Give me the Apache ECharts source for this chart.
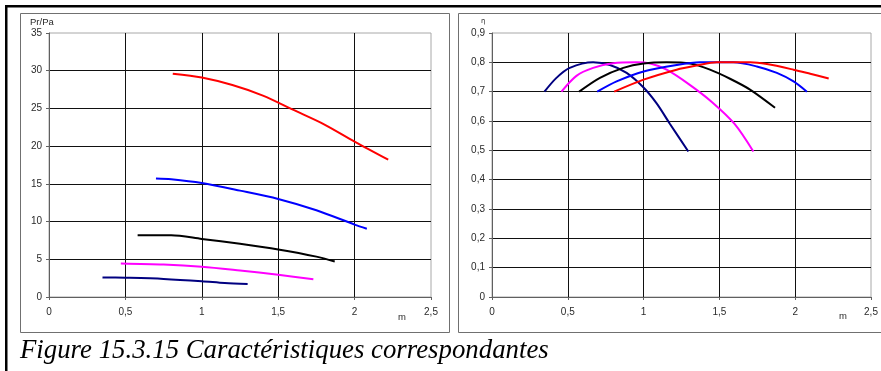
<!DOCTYPE html>
<html>
<head>
<meta charset="utf-8">
<script src="https://cdn.jsdelivr.net/npm/echarts@6/dist/echarts.min.js"></script>
<style>
html,body{margin:0;padding:0;background:#fff;}
#chart{width:881px;height:371px;}
</style>
</head>
<body>
<div id="chart"></div>
<script>
// ---- Data ----
const caption = 'Figure 15.3.15 Caractéristiques correspondantes';
const xTicks = [0, 0.5, 1, 1.5, 2, 2.5];
const yTicksP = [0, 5, 10, 15, 20, 25, 30, 35];
const yTicksE = [0, 0.1, 0.2, 0.3, 0.4, 0.5, 0.6, 0.7, 0.8, 0.9];
const seriesColors = ['#000080', '#ff00ff', '#000000', '#0000ff', '#ff0000'];

// Left chart: Pr/Pa vs m
const navyPx = [0.35, 0.5, 0.75, 1.0, 1.15, 1.30];
const navyPy = [2.6, 2.55, 2.4, 2.1, 1.85, 1.72];
const magentaPx = [0.47, 0.75, 1.0, 1.25, 1.5, 1.73];
const magentaPy = [4.45, 4.3, 4.0, 3.5, 2.95, 2.35];
const blackPx = [0.58, 0.8, 1.0, 1.25, 1.5, 1.75, 1.87];
const blackPy = [8.2, 8.2, 7.7, 7.05, 6.3, 5.35, 4.7];
const bluePx = [0.70, 0.8, 1.0, 1.25, 1.5, 1.75, 2.0, 2.08];
const bluePy = [15.7, 15.6, 15.1, 14.1, 13.0, 11.5, 9.6, 9.05];
const redPx = [0.81, 1.0, 1.2, 1.4, 1.6, 1.8, 2.0, 2.22];
const redPy = [29.6, 29.1, 28.1, 26.7, 24.8, 22.9, 20.6, 18.2];

// Right chart: eta vs m
const navyEx = [0.346, 0.425, 0.513, 0.667, 0.778, 0.888, 0.998, 1.086, 1.174, 1.295];
const navyEy = [0.70, 0.747, 0.781, 0.80, 0.791, 0.764, 0.715, 0.660, 0.590, 0.496];
const magentaEx = [0.458, 0.557, 0.667, 0.80, 0.95, 1.05, 1.152, 1.30, 1.45, 1.60, 1.724];
const magentaEy = [0.70, 0.754, 0.781, 0.797, 0.80, 0.795, 0.775, 0.725, 0.665, 0.590, 0.496];
const blackEx = [0.575, 0.712, 0.866, 1.0, 1.152, 1.306, 1.438, 1.570, 1.702, 1.867];
const blackEy = [0.70, 0.747, 0.781, 0.796, 0.80, 0.796, 0.775, 0.744, 0.707, 0.645];
const blueEx = [0.694, 0.822, 1.0, 1.218, 1.372, 1.592, 1.747, 1.879, 1.989, 2.077];
const blueEy = [0.70, 0.735, 0.769, 0.791, 0.80, 0.80, 0.786, 0.764, 0.735, 0.70];
const redEx = [0.806, 1.0, 1.218, 1.350, 1.482, 1.702, 1.813, 1.989, 2.099, 2.221];
const redEy = [0.70, 0.741, 0.775, 0.789, 0.80, 0.80, 0.794, 0.775, 0.761, 0.745];

// ---- Build ----
const zip = (xs, ys) => xs.map((x, i) => [x, ys[i]]);
const leftSets = [[navyPx, navyPy], [magentaPx, magentaPy], [blackPx, blackPy], [bluePx, bluePy], [redPx, redPy]];
const rightSets = [[navyEx, navyEy], [magentaEx, magentaEy], [blackEx, blackEy], [blueEx, blueEy], [redEx, redEy]];
const fmt = v => String(+(+v).toFixed(1)).replace('.', ',');

// fit caption width to the reference (~529 px)
const capFamily = '"Liberation Serif", "DejaVu Serif", serif';
let capSize = 24;
try {
  const ctx = document.createElement('canvas').getContext('2d');
  ctx.font = 'italic 100px ' + capFamily;
  const w = ctx.measureText(caption).width;
  if (w > 0) capSize = Math.round(100 * 529 / w * 10) / 10;
} catch (e) {}

const labelStyle = { color: '#2a2a2a', fontSize: 10, fontFamily: 'Liberation Sans', formatter: fmt };
function xAxis(gi) {
  return {
    type: 'value', gridIndex: gi, min: xTicks[0], max: xTicks[xTicks.length - 1], interval: 0.5,
    axisLine: { show: true, lineStyle: { color: '#606060', width: 1 } },
    axisTick: { show: true, length: 3, lineStyle: { color: '#606060' } },
    axisLabel: Object.assign({ margin: 10 }, labelStyle),
    splitLine: { show: true, showMinLine: false, showMaxLine: false, lineStyle: { color: '#111', width: 1 } }
  };
}
function yAxis(gi, ticks, interval) {
  return {
    type: 'value', gridIndex: gi, min: ticks[0], max: ticks[ticks.length - 1], interval: interval,
    axisLine: { show: true, lineStyle: { color: '#606060', width: 1 } },
    axisTick: { show: true, length: 3, lineStyle: { color: '#606060' } },
    axisLabel: Object.assign({ margin: 7 }, labelStyle),
    splitLine: { show: true, showMinLine: false, showMaxLine: false, lineStyle: { color: '#111', width: 1 } }
  };
}

const series = [];
leftSets.forEach((s, i) => series.push({
  type: 'line', xAxisIndex: 0, yAxisIndex: 0, data: zip(s[0], s[1]), smooth: 0.3,
  showSymbol: false, lineStyle: { color: seriesColors[i], width: 2 }, itemStyle: { color: seriesColors[i] }, z: 5
}));
rightSets.forEach((s, i) => series.push({
  type: 'line', xAxisIndex: 1, yAxisIndex: 1, data: zip(s[0], s[1]), smooth: 0.3,
  showSymbol: false, lineStyle: { color: seriesColors[i], width: 2 }, itemStyle: { color: seriesColors[i] }, z: 5
}));

const chart = echarts.init(document.getElementById('chart'), null, { renderer: 'canvas' });
chart.setOption({
  animation: false,
  backgroundColor: '#fff',
  grid: [
    { left: 49, top: 33, width: 382, height: 264, show: true, borderColor: '#a8a8a8', borderWidth: 1, backgroundColor: 'transparent' },
    { left: 492, top: 33, width: 379, height: 264, show: true, borderColor: '#a8a8a8', borderWidth: 1, backgroundColor: 'transparent' }
  ],
  xAxis: [xAxis(0), xAxis(1)],
  yAxis: [yAxis(0, yTicksP, 5), yAxis(1, yTicksE, 0.1)],
  series: series,
  graphic: [
    { type: 'rect', shape: { x: 20.5, y: 13.5, width: 429, height: 319 }, style: { fill: 'none', stroke: '#707070', lineWidth: 1 }, z: 0, silent: true },
    { type: 'rect', shape: { x: 458.5, y: 13.5, width: 440, height: 319 }, style: { fill: 'none', stroke: '#707070', lineWidth: 1 }, z: 0, silent: true },
    { type: 'rect', shape: { x: 5, y: 5, width: 876, height: 2.5 }, style: { fill: '#000' }, z: 10, silent: true },
    { type: 'rect', shape: { x: 5, y: 5, width: 2.5, height: 366 }, style: { fill: '#000' }, z: 10, silent: true },
    { type: 'text', x: 30, y: 17, style: { text: 'Pr/Pa', fill: '#2a2a2a', fontSize: 9.5, fontFamily: 'Liberation Sans' }, z: 10 },
    { type: 'text', x: 398, y: 312, style: { text: 'm', fill: '#2a2a2a', fontSize: 9.5, fontFamily: 'Liberation Sans' }, z: 10 },
    { type: 'text', x: 481, y: 18, style: { text: 'η', fill: '#2a2a2a', fontSize: 7, fontFamily: 'DejaVu Sans' }, z: 10 },
    { type: 'text', x: 839, y: 311, style: { text: 'm', fill: '#2a2a2a', fontSize: 9.5, fontFamily: 'Liberation Sans' }, z: 10 },
    { type: 'text', x: 20, y: 364, style: { text: caption, fill: '#000', fontSize: capSize, fontStyle: 'italic', fontFamily: capFamily, verticalAlign: 'bottom' }, z: 10 }
  ]
});
</script>
</body>
</html>
